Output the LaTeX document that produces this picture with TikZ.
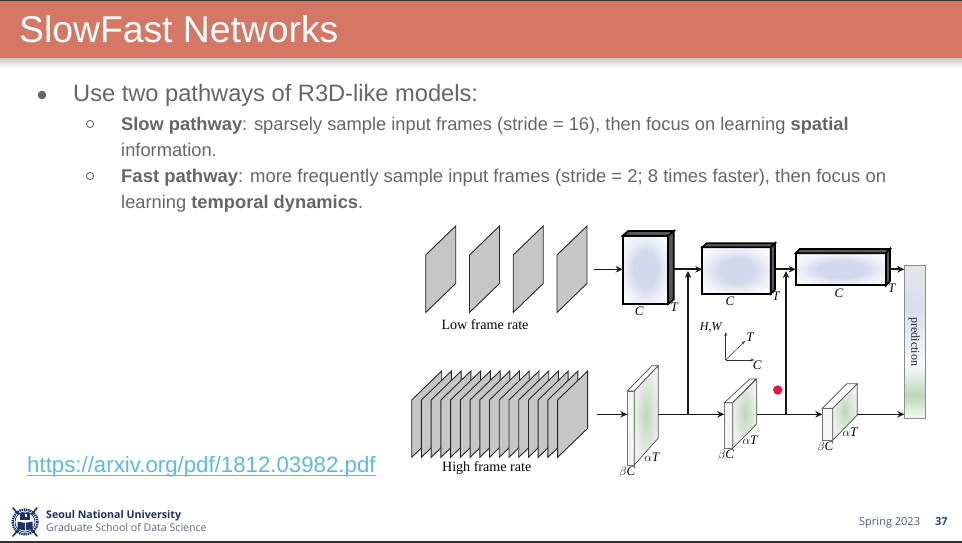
\documentclass[tikz,border=0pt]{standalone}
\usepackage{fontspec}
\usepackage{xcolor}
\usetikzlibrary{arrows.meta,calc}
\setmainfont{Liberation Sans}
\newfontfamily\figfont{Liberation Serif}
\newfontfamily\footfont{Open Sans}
\definecolor{clrBar}{RGB}{212,120,101}
\definecolor{clrTxt}{RGB}{102,102,102}
\definecolor{clrLink}{RGB}{96,184,220}
\definecolor{clrNavy}{RGB}{28,48,104}
\definecolor{clrFrame}{RGB}{198,198,198}
\definecolor{clrSlow}{RGB}{210,216,236}
\definecolor{clrFast}{RGB}{190,214,186}
\definecolor{clrDot}{RGB}{232,24,62}
\pgfdeclareverticalshading{predshade}{100bp}{color(0bp)=(white!85!clrFast); color(25bp)=(white!85!clrFast); color(32.5bp)=(clrFast); color(42.5bp)=(white!85!clrSlow); color(52.5bp)=(white!45!clrSlow); color(61bp)=(clrSlow!85!white); color(75bp)=(black!10); color(100bp)=(black!10)}
\pgfdeclareradialshading{blkshade}{\pgfpoint{0bp}{0bp}}{color(0bp)=(clrSlow); color(13bp)=(clrSlow); color(23bp)=(white!60!clrSlow); color(30bp)=(white!85!clrSlow); color(50bp)=(white!85!clrSlow)}
\pgfdeclareradialshading{fstshade}{\pgfpoint{0bp}{0bp}}{color(0bp)=(clrFast); color(12bp)=(white!35!clrFast); color(26bp)=(black!6); color(50bp)=(black!6)}
\newcommand{\fsize}[1]{\fontsize{#1}{#1}\selectfont}

\begin{document}
\begin{tikzpicture}[x=1pt,y=-1pt,
    txt/.style={anchor=base west,inner sep=0pt,text=clrTxt},
    frameface/.style={draw=black!85,fill=clrFrame,line width=0.9pt,line join=miter},
    slowface/.style={draw=black,line width=2.2pt,inner sep=0pt,outer sep=0pt,shading=blkshade},
    slowside/.style={draw=black,fill=black!65,line width=1.7pt,line join=miter},
    fastface/.style={draw=black!55,line width=0.7pt,inner sep=0pt,outer sep=0pt,fill=black!4},
    fastside/.style={draw=black!70,line width=0.7pt,shading=fstshade},
    fasttop/.style={draw=black!70,line width=0.7pt,fill=white},
    arr/.style={draw=black!90,line width=1.3pt,-{Stealth[length=7pt,width=6.5pt]}},
    axis/.style={draw=black!80,line width=0.5pt,-{Stealth[length=3.5pt,width=3pt]}},
    lbl/.style={font=\figfont\fsize{13}\itshape,inner sep=0pt},
  ]
  \useasboundingbox (0,0) rectangle (962,543);
  \fill[white] (0,0) rectangle (962,543);

  % --- title bar ---
  \shade[top color=black!22,bottom color=white] (0,58) rectangle (962,68);
  \fill[clrBar] (0,1) rectangle (962,58);
  \fill[black!80] (0,0) rectangle (962,1);
  \fill[black!80] (0,541) rectangle (962,543);
  \node[anchor=base west,inner sep=0pt,text=white,font=\fsize{37.3}] (title) at (19,43) {SlowFast Networks};

  % --- bullets ---
  \fill[clrTxt] (42,95) circle (4.3);
  \node[txt,font=\fsize{23.65}] (main) at (73,102) {Use two pathways of R3D-like models:};
  \draw[clrTxt,line width=0.9pt] (90,124) circle (3.6) (90,176) circle (3.6);
  \node[txt,font=\fsize{18.3}] (slowA) at (121,130) {\textbf{Slow pathway}: sparsely sample input frames (stride = 16), then focus on learning \textbf{spatial}};
  \node[txt,font=\fsize{18.3}] (slowB) at (121,156) {information.};
  \node[txt,font=\fsize{18.47}] (fastA) at (121,182) {\textbf{Fast pathway}: more frequently sample input frames (stride = 2; 8 times faster), then focus on};
  \node[txt,font=\fsize{18.3}] (fastB) at (121,208) {learning \textbf{temporal dynamics}.};

  % --- link ---
  \node[anchor=base west,inner sep=0pt,text=clrLink,font=\fsize{22.25}] (link) at (27,472) {https://arxiv.org/pdf/1812.03982.pdf};
  \draw[clrLink,line width=1pt] ($(link.base west)+(0,3)$) -- ($(link.base east)+(0,3)$);

  % --- input frames ---
  \foreach \x in {425.7,469.5,513.2,557}{
    \draw[frameface] (\x,255) -- ++(30,-29) -- ++(0,57.5) -- ++(-30,29) -- cycle;}
  \foreach \n in {0,...,15}{
    \draw[frameface] ({411.7+\n*9.73},400) -- ++(30,-29) -- ++(0,57.3) -- ++(-30,29) -- cycle;}
  \node[font=\figfont\fsize{14.1},inner sep=0pt] (lowlbl) at (485,324.3) {Low frame rate};
  \node[font=\figfont\fsize{14.1},inner sep=0pt] (highlbl) at (486.7,468.3) {High frame rate};

  % --- slow blocks ---
  \node[slowface,minimum width=45.6pt,minimum height=68.3pt] (blkA) at (645.5,269.85) {};
  \draw[slowside] (blkA.north west) -- ++(5.5,-4.7) -- ++(45.6,0) -- ++(-5.5,4.7) -- cycle;
  \draw[slowside] (blkA.north east) -- ++(5.5,-4.7) -- ++(0,68.3) -- ++(-5.5,4.7) -- cycle;
  \node[slowface,minimum width=68.4pt,minimum height=46.4pt] (blkB) at (736.5,270.5) {};
  \draw[slowside] (blkB.north west) -- ++(4.3,-4) -- ++(68.4,0) -- ++(-4.3,4) -- cycle;
  \draw[slowside] (blkB.north east) -- ++(4.3,-4) -- ++(0,46.4) -- ++(-4.3,4) -- cycle;
  \node[slowface,minimum width=90.3pt,minimum height=32pt] (blkC) at (840.85,269.3) {};
  \draw[slowside] (blkC.north west) -- ++(4,-4.3) -- ++(90.3,0) -- ++(-4,4.3) -- cycle;
  \draw[slowside] (blkC.north east) -- ++(4,-4.3) -- ++(0,32) -- ++(-4,4.3) -- cycle;

  % --- fast blocks ---
  \node[fastface,minimum width=7pt,minimum height=74pt] (fstA) at (630.8,428) {};
  \draw[fasttop] (fstA.north west) -- ++(24.7,-25.3) -- ++(6.3,0) -- ++(-24,25.3) -- cycle;
  \draw[fastside] (fstA.north east) -- ++(24,-25.3) -- ++(0,72.3) -- ++(-24,27) -- cycle;
  \node[fastface,minimum width=8.4pt,minimum height=45.6pt] (fstB) at (728.5,425.5) {};
  \draw[fasttop] (fstB.north west) -- ++(25.5,-23.7) -- ++(6.3,0) -- ++(-23.4,23.7) -- cycle;
  \draw[fastside] (fstB.north east) -- ++(24,-23.7) -- ++(0,45) -- ++(-24,24.3) -- cycle;
  \node[fastface,minimum width=10.4pt,minimum height=32pt] (fstC) at (827.5,424.3) {};
  \draw[fasttop] (fstC.north west) -- ++(24.7,-24.6) -- ++(10.4,0) -- (fstC.north east) -- cycle;
  \draw[fastside] (fstC.north east) -- ++(24.6,-24.6) -- ++(0,31.3) -- (fstC.south east) -- cycle;

  % --- prediction ---
  \node[draw=black!45,line width=0.6pt,shading=predshade,inner sep=0pt,outer sep=0pt,minimum width=20.7pt,minimum height=152.6pt] (pred) at (914.65,342) {};
  \node[rotate=-90,font=\figfont\fsize{12},inner sep=0pt,text=black!85] (predlbl) at (914.3,341.7) {prediction};

  % --- connectors ---
  \coordinate (inLow) at (593.7,269.3);
  \coordinate (inHigh) at (596.7,414.3);
  \coordinate (outA) at (674,269.3);
  \coordinate (outB) at (775,269.3);
  \coordinate (outC) at (890,269.3);
  \coordinate (sideA) at (658.3,414.3);
  \coordinate (sideB) at (756.7,414.3);
  \coordinate (sideC) at (857.3,414.3);
  \coordinate (joinA) at (688,414.3);
  \coordinate (joinB) at (786,414.3);
  \coordinate (topA) at (688,271);
  \coordinate (topB) at (786,271);
  \draw[arr] (inLow) -- (inLow -| blkA.west);
  \draw[arr] (inHigh) -- (inHigh -| fstA.west);
  \draw[arr,line width=1.7pt] (outA) -- (outA -| blkB.west);
  \draw[arr,line width=1.7pt] (outB) -- (outB -| blkC.west);
  \draw[arr,line width=1.7pt] (outC) -- (outC -| pred.west);
  \draw[arr] (sideA) -- (sideA -| fstB.west);
  \draw[arr] (sideB) -- (sideB -| fstC.west);
  \draw[arr] (sideC) -- (sideC -| pred.west);
  \draw[arr] (joinA) -- (topA);
  \draw[arr] (joinB) -- (topB);

  % --- labels ---
  \node[lbl] (cA) at (639.3,311) {C};
  \node[lbl] (tA) at (674.3,307.7) {T};
  \node[lbl] (cB) at (730,301) {C};
  \node[lbl] (tB) at (776,296) {T};
  \node[lbl] (cC) at (839,293.3) {C};
  \node[lbl] (tC) at (891.7,288.3) {T};
  \node[lbl] (bA) at (627.3,472.7) {$\beta$C};
  \node[lbl] (aA) at (651.7,457.7) {$\alpha$T};
  \node[lbl] (bB) at (726,455) {$\beta$C};
  \node[lbl] (aB) at (750,440) {$\alpha$T};
  \node[lbl] (bC) at (825.3,447.3) {$\beta$C};
  \node[lbl] (aC) at (850,432.3) {$\alpha$T};

  % --- axes ---
  \coordinate (org) at (725.7,360);
  \coordinate (axH) at (725.7,332.3);
  \coordinate (axT) at (745,341);
  \coordinate (axC) at (754,360);
  \draw[axis] (org) -- (axH);
  \draw[axis] (org) -- (axT);
  \draw[axis] (org) -- (axC);
  \node[lbl,font=\figfont\fsize{12}\itshape] (lblH) at (710.7,327.7) {H,W};
  \node[lbl] (lblT) at (750,337.7) {T};
  \node[lbl] (lblC) at (757.3,365) {C};

  % --- pointer ---
  \fill[clrDot] (777.7,390) circle (4.7);

  % --- footer ---
  \draw[clrNavy,line width=2.4pt,dash pattern=on 1.4pt off 0.8pt] (25,522) circle (12.5);
  \draw[clrNavy,line width=0.8pt] (25,522) circle (10);
  \draw[clrNavy,line width=1.6pt,line cap=round] (13,508) -- (37,536) (37,508) -- (13,536);
  \fill[white] (25,522) circle (9.4);
  \fill[clrNavy] (20,512.5) rectangle (30,520);
  \fill[white] (25,514) rectangle (27,517);
  \fill[clrNavy] (17.5,521.5) -- (25,523) -- (32.5,521.5) -- (32.5,529) -- (25,530.5) -- (17.5,529) -- cycle;
  \draw[white,line width=0.5pt] (25,523) -- (25,530.5);
  \node[anchor=base west,inner sep=0pt,text=clrNavy,font=\footfont\fsize{10.6}\bfseries] (snu) at (46,518) {Seoul National University};
  \node[anchor=base west,inner sep=0pt,text=clrNavy!75!black!70,font=\footfont\fsize{10.6}] (gsds) at (46,531.7) {Graduate School of Data Science};
  \node[anchor=base west,inner sep=0pt,text=clrNavy!80,font=\footfont\fsize{11}] (term) at (859,525.5) {Spring 2023};
  \node[anchor=base west,inner sep=0pt,text=clrNavy!90,font=\footfont\fsize{11}\bfseries] (page) at (935,525.5) {37};
\end{tikzpicture}
\end{document}
